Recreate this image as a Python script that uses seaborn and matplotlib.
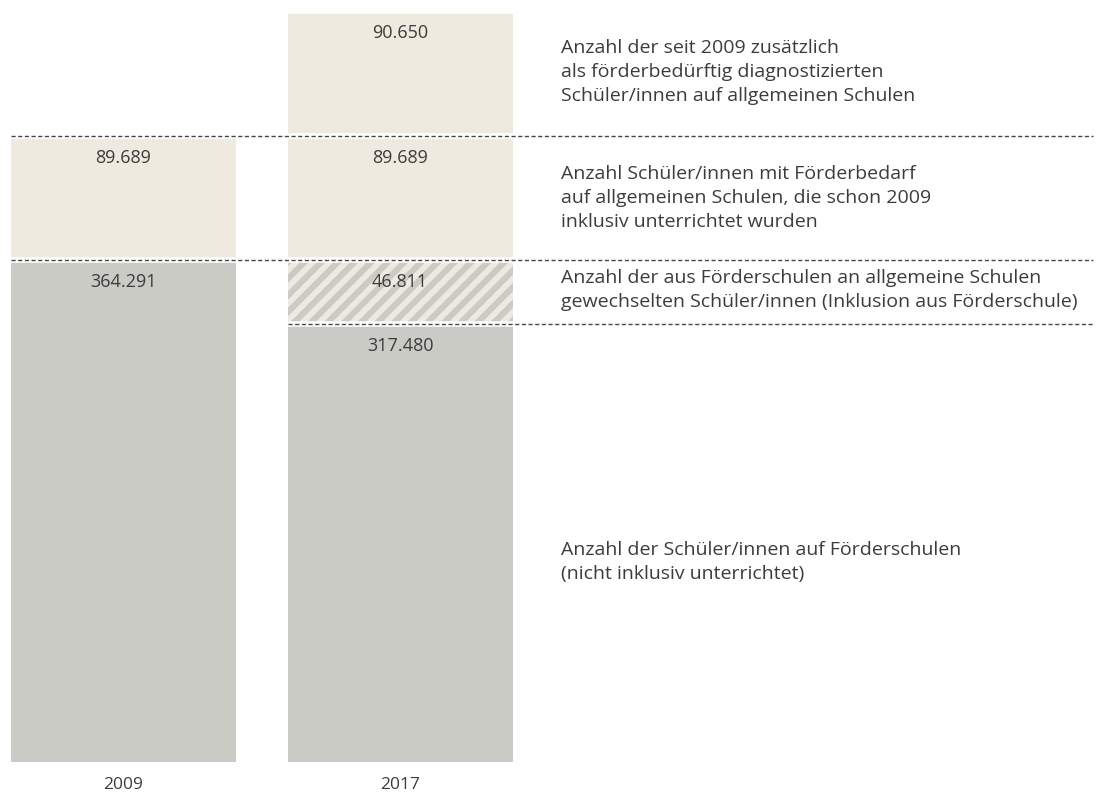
import numpy as np
import pandas as pd
import matplotlib
matplotlib.use("Agg")
import matplotlib.pyplot as plt
import seaborn as sns

# ---- data ----
years = ["2009", "2017"]
foerderschule = [364291, 317480]          # Schüler/innen auf Förderschulen
inklusion_aus_fs = [0, 46811]             # aus Förderschulen gewechselt
schon_2009 = [89689, 89689]               # schon 2009 inklusiv unterrichtet
zusaetzlich = [0, 90650]                  # seit 2009 zusätzlich diagnostiziert

lbl_foerderschule = ["364.291", "317.480"]
lbl_inklusion = [None, "46.811"]
lbl_schon = ["89.689", "89.689"]
lbl_zusaetzlich = [None, "90.650"]

desc_zusaetzlich = ["Anzahl der seit 2009 zusätzlich",
                    "als förderbedürftig diagnostizierten",
                    "Schüler/innen auf allgemeinen Schulen"]
desc_schon = ["Anzahl Schüler/innen mit Förderbedarf",
              "auf allgemeinen Schulen, die schon 2009",
              "inklusiv unterrichtet wurden"]
desc_inklusion = ["Anzahl der aus Förderschulen an allgemeine Schulen",
                  "gewechselten Schüler/innen (Inklusion aus Förderschule)"]
desc_foerderschule = ["Anzahl der Schüler/innen auf Förderschulen",
                      "(nicht inklusiv unterrichtet)"]

# ---- style ----
sns.set_style("white")
plt.rcParams["font.family"] = ["Open Sans", "DejaVu Sans"]
plt.rcParams["hatch.linewidth"] = 4.4

BEIGE = "#EEEAE0"
GRAY = "#CACBC5"
TEXT = "#3c3c3c"
W, H = 1096, 794

fig = plt.figure(figsize=(W / 100, H / 100), dpi=100)
ax = fig.add_axes([0, 32.5 / H, 1, 761.5 / H])

c1 = np.array(foerderschule)
c2 = c1 + np.array(inklusion_aus_fs)
c3 = c2 + np.array(schon_2009)
c4 = c3 + np.array(zusaetzlich)

bw = 225 / 276.5
layers = [
    (c4, BEIGE, None),
    (c3, BEIGE, None),
    (c2, BEIGE, "//"),
    (c1, GRAY, None),
]
for vals, col, hatch in layers:
    df = pd.DataFrame({"year": years, "value": vals})
    kw = dict(hatch=hatch, edgecolor=GRAY, linewidth=0) if hatch else dict(linewidth=0)
    sns.barplot(data=df, x="year", y="value", color=col, saturation=1,
                width=bw, ax=ax, **kw)

ax.set_xlim(-123.5 / 276.5, (W - 123.5) / 276.5)
ax.set_ylim(0, 761.5 / 1.378 * 1000)

# separators with dashed lines
x_end = 1093 / W
seps = [(c3[0], 11 / W), (c1[0], 11 / W), (c1[1], 287.5 / W)]
for y, xs in seps:
    ax.axhline(y, xmin=xs, xmax=1.0, color="white", lw=4.0, zorder=5)
    ax.axhline(y, xmin=xs, xmax=x_end, color="#474747", lw=1.0,
               linestyle=(0, (3, 1.8)), zorder=6)
ax.axhline(c4[1], xmin=0, xmax=1, color="white", lw=4.0, zorder=5)

# value labels at top of each segment
def label(xi, top, txt):
    if txt is None:
        return
    ax.annotate(txt, xy=(xi, top), xytext=(0, -16), textcoords="offset points",
                ha="center", va="center", fontsize=13, color=TEXT, zorder=7)

for i in range(2):
    label(i, c4[i], lbl_zusaetzlich[i])
    label(i, c3[i], lbl_schon[i])
    label(i, c2[i], lbl_inklusion[i])
    label(i, c1[i], lbl_foerderschule[i] if i == 1 else None)
label(0, c1[0], lbl_foerderschule[0])

# descriptions
def desc(lines, y_first):
    for k, ln in enumerate(lines):
        fig.text(561 / W, 1 - (y_first + 24 * k) / H, ln, ha="left", va="center",
                 fontsize=14, color=TEXT)

desc(desc_zusaetzlich, 48)
desc(desc_schon, 174)
desc(desc_inklusion, 278)
desc(desc_foerderschule, 550)

sns.despine(ax=ax, left=True, bottom=True)
ax.set_xlabel("")
ax.set_ylabel("")
ax.set_yticks([])
ax.tick_params(axis="x", length=0, pad=11, labelsize=12.5, labelcolor=TEXT)

fig.savefig("out.png", dpi=100)
